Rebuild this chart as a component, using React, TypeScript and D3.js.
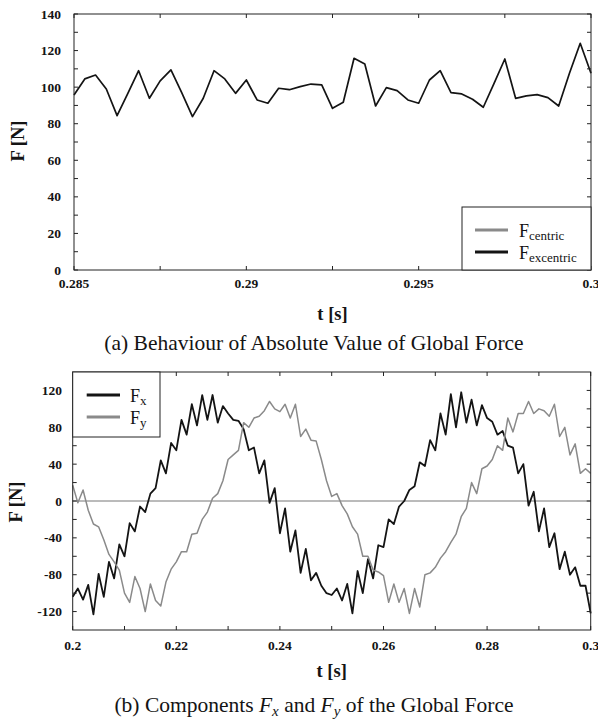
import React from 'react';
import * as d3 from 'd3';

// ---- Panel (a): absolute value of the global force ----
const absTime = [
  0.285, 0.2853125, 0.285625, 0.2859375, 0.28625, 0.2865625, 0.286875, 0.2871875, 0.2875,
  0.2878125, 0.288125, 0.2884375, 0.28875, 0.2890625, 0.289375, 0.2896875, 0.29, 0.2903125,
  0.290625, 0.2909375, 0.29125, 0.2915625, 0.291875, 0.2921875, 0.2925, 0.2928125, 0.293125,
  0.2934375, 0.29375, 0.2940625, 0.294375, 0.2946875, 0.295, 0.2953125, 0.295625, 0.2959375,
  0.29625, 0.2965625, 0.296875, 0.2971875, 0.2975, 0.2978125, 0.298125, 0.2984375, 0.29875,
  0.2990625, 0.299375, 0.2996875, 0.3,
];
const absExcentric = [
  95.7, 104.5, 106.6, 99, 84.4, 96.6, 109, 93.9, 103.4, 109.4, 97, 83.9, 93.9, 109, 104.5, 96.6,
  103.9, 93, 91.2, 99.4, 98.6, 100.3, 101.7, 101.2, 88.4, 91.7, 115.8, 112.7, 89.7, 99.7, 98.1,
  93, 91.2, 103.9, 109, 97, 96.3, 93.4, 89, 102.1, 115.4, 93.9, 95.2, 95.9, 94.3, 89.7, 107.6,
  124, 107.6,
];
const absTicksX = [0.285, 0.29, 0.295, 0.3];
const absTickLabelsX = ['0.285', '0.29', '0.295', '0.3'];
const absMinorX = [0.2875, 0.2925, 0.2975];
const absTicksY = [0, 20, 40, 60, 80, 100, 120, 140];
const absMinorY = [10, 30, 50, 70, 90, 110, 130];

// ---- Panel (b): components Fx and Fy ----
const compTime = [
  0.2, 0.201, 0.202, 0.203, 0.204, 0.205, 0.206, 0.207, 0.208, 0.209,
  0.21, 0.211, 0.212, 0.213, 0.214, 0.215, 0.216, 0.217, 0.218, 0.219,
  0.22, 0.221, 0.222, 0.223, 0.224, 0.225, 0.226, 0.227, 0.228, 0.229,
  0.23, 0.231, 0.232, 0.233, 0.234, 0.235, 0.236, 0.237, 0.238, 0.239,
  0.24, 0.241, 0.242, 0.243, 0.244, 0.245, 0.246, 0.247, 0.248, 0.249,
  0.25, 0.251, 0.252, 0.253, 0.254, 0.255, 0.256, 0.257, 0.258, 0.259,
  0.26, 0.261, 0.262, 0.263, 0.264, 0.265, 0.266, 0.267, 0.268, 0.269,
  0.27, 0.271, 0.272, 0.273, 0.274, 0.275, 0.276, 0.277, 0.278, 0.279,
  0.28, 0.281, 0.282, 0.283, 0.284, 0.285, 0.286, 0.287, 0.288, 0.289,
  0.29, 0.291, 0.292, 0.293, 0.294, 0.295, 0.296, 0.297, 0.298, 0.299,
  0.3,
];
const compFx = [
  -104, -95, -107, -91, -123, -79, -104, -66, -84, -47,
  -60, -24, -33, -6, -12, 8, 14, 44, 30, 63,
  55, 88, 72, 105, 82, 115, 88, 115, 85, 103,
  95, 88, 87, 78, 55, 58, 30, 44, -2, 14,
  -35, -8, -55, -32, -78, -52, -86, -78, -92, -100,
  -102, -95, -108, -90, -122, -76, -100, -63, -84, -48,
  -50, -20, -25, -6, 0, 12, 16, 42, 38, 66,
  55, 95, 72, 116, 80, 118, 85, 110, 82, 104,
  90, 86, 72, 76, 60, 58, 30, 40, -5, 10,
  -33, -8, -50, -35, -74, -55, -80, -72, -92, -92,
  -122,
];
const compFy = [
  17, -2, 12, -10, -25, -28, -42, -58, -66, -75,
  -100, -110, -82, -95, -120, -90, -108, -114, -88, -74,
  -66, -55, -55, -36, -35, -20, -12, 3, 8, 22,
  45, 50, 55, 85, 80, 90, 92, 98, 108, 100,
  97, 105, 90, 105, 70, 78, 66, 65, 45, 22,
  5, 8, -5, -14, -28, -36, -60, -60, -75, -77,
  -81, -110, -90, -110, -95, -122, -95, -115, -80, -78,
  -72, -62, -55, -45, -36, -17, -8, 20, 8, 35,
  38, 45, 60, 55, 90, 75, 95, 95, 108, 95,
  100, 98, 92, 105, 70, 80, 50, 62, 30, 35,
  30,
];
const compTicksX = [0.2, 0.22, 0.24, 0.26, 0.28, 0.3];
const compTickLabelsX = ['0.2', '0.22', '0.24', '0.26', '0.28', '0.3'];
const compMinorX = [0.21, 0.23, 0.25, 0.27, 0.29];
const compTicksY = [-120, -80, -40, 0, 40, 80, 120];
const compMinorY = [-100, -60, -20, 20, 60, 100];

const SERIF = '"Liberation Serif", "DejaVu Serif", "Times New Roman", serif';
const AXIS = '#222';
const DARK = '#141414';
const GREY = '#8a8a8a';
const TICK = 4;
const TICK_FONT = 13.5;
const LABEL_FONT = 18.5;
const CAPTION_FONT = 21.5;

type Scale = d3.ScaleLinear<number, number>;

function Frame({ x, y, majorX, labelsX, minorX, majorY, minorY, labelY, xLabelY, yLabelX }: {
  x: Scale; y: Scale; majorX: number[]; labelsX: string[]; minorX: number[];
  majorY: number[]; minorY: number[]; labelY: number; xLabelY: number; yLabelX: number;
}) {
  const [x0, x1] = x.range();
  const [y0, y1] = y.range();
  const allX = [...majorX, ...minorX];
  const allY = [...majorY, ...minorY];
  return (
    <g>
      <rect x={x0} y={y1} width={x1 - x0} height={y0 - y1} fill="none" stroke={AXIS} strokeWidth={1} />
      {allX.map((t, i) => (
        <g key={`xt${i}`}>
          <line x1={x(t)} x2={x(t)} y1={y0} y2={y0 - TICK} stroke={AXIS} />
          <line x1={x(t)} x2={x(t)} y1={y1} y2={y1 + TICK} stroke={AXIS} />
        </g>
      ))}
      {allY.map((v, i) => (
        <g key={`yt${i}`}>
          <line x1={x0} x2={x0 + TICK} y1={y(v)} y2={y(v)} stroke={AXIS} />
          <line x1={x1} x2={x1 - TICK} y1={y(v)} y2={y(v)} stroke={AXIS} />
        </g>
      ))}
      {majorX.map((t, i) => (
        <text key={`xl${i}`} x={x(t)} y={labelY} textAnchor="middle" fontFamily={SERIF}
          fontWeight="bold" fontSize={TICK_FONT} fill={DARK}>{labelsX[i]}</text>
      ))}
      {majorY.map((v, i) => (
        <text key={`yl${i}`} x={yLabelX} y={y(v) + 4.5} textAnchor="end" fontFamily={SERIF}
          fontWeight="bold" fontSize={TICK_FONT} fill={DARK}>{String(v)}</text>
      ))}
      <text x={(x0 + x1) / 2} y={xLabelY} textAnchor="middle" fontFamily={SERIF}
        fontWeight="bold" fontSize={LABEL_FONT} fill={DARK}>t [s]</text>
    </g>
  );
}

export default function App() {
  // Panel (a) scales
  const xa = d3.scaleLinear().domain([0.285, 0.3]).range([74, 591]);
  const ya = d3.scaleLinear().domain([0, 140]).range([270, 14]);
  const lineA = d3.line<number>().x((_, i) => xa(absTime[i])).y((d) => ya(d));

  // Panel (b) scales
  const xb = d3.scaleLinear().domain([0.2, 0.3]).range([72.7, 590.7]);
  const yb = d3.scaleLinear().domain([-140, 140]).range([630, 372]);
  const lineB = d3.line<number>().x((_, i) => xb(compTime[i])).y((d) => yb(d));

  return (
    <svg width={598} height={722} viewBox="0 0 598 722"
      style={{ position: 'absolute', left: 0, top: 0, background: '#fff' }}>
      <rect x={0} y={0} width={598} height={722} fill="#fff" />

      {/* (a) absolute value of the global force */}
      <path d={lineA(absExcentric) ?? ''} fill="none" stroke={DARK} strokeWidth={1.7} strokeLinejoin="round" />
      <Frame x={xa} y={ya} majorX={absTicksX} labelsX={absTickLabelsX} minorX={absMinorX}
        majorY={absTicksY} minorY={absMinorY} labelY={288} xLabelY={320} yLabelX={61} />
      <text transform="translate(24,141) rotate(-90)" textAnchor="middle" fontFamily={SERIF}
        fontWeight="bold" fontSize={LABEL_FONT} fill={DARK}>F [N]</text>
      <g>
        <rect x={462} y={207} width={129} height={63} fill="#fff" stroke={AXIS} />
        <line x1={475} x2={508} y1={230} y2={230} stroke={GREY} strokeWidth={3} />
        <line x1={475} x2={508} y1={252} y2={252} stroke={DARK} strokeWidth={3} />
        <text x={519} y={237} fontFamily={SERIF} fontSize={18} fill={DARK}>
          F<tspan fontSize={13} dy={3}>centric</tspan>
        </text>
        <text x={519} y={259} fontFamily={SERIF} fontSize={18} fill={DARK}>
          F<tspan fontSize={13} dy={3}>excentric</tspan>
        </text>
      </g>
      <text x={314} y={350} textAnchor="middle" fontFamily={SERIF} fontSize={CAPTION_FONT} fill={DARK}>
        (a) Behaviour of Absolute Value of Global Force
      </text>

      {/* (b) components of the global force */}
      <line x1={xb(0.2)} x2={xb(0.3)} y1={yb(0)} y2={yb(0)} stroke="#777" strokeWidth={1} />
      <path d={lineB(compFx) ?? ''} fill="none" stroke={DARK} strokeWidth={1.8} strokeLinejoin="round" />
      <path d={lineB(compFy) ?? ''} fill="none" stroke={GREY} strokeWidth={1.5} strokeLinejoin="round" />
      <Frame x={xb} y={yb} majorX={compTicksX} labelsX={compTickLabelsX} minorX={compMinorX}
        majorY={compTicksY} minorY={compMinorY} labelY={650} xLabelY={677} yLabelX={62} />
      <text transform="translate(22,502) rotate(-90)" textAnchor="middle" fontFamily={SERIF}
        fontWeight="bold" fontSize={LABEL_FONT} fill={DARK}>F [N]</text>
      <g>
        <rect x={72.7} y={372} width={87.3} height={65} fill="#fff" stroke={AXIS} />
        <line x1={86.7} x2={120} y1={395} y2={395} stroke={DARK} strokeWidth={3} />
        <line x1={86.7} x2={120} y1={417} y2={417} stroke={GREY} strokeWidth={3} />
        <text x={130} y={402} fontFamily={SERIF} fontSize={18} fill={DARK}>
          F<tspan fontSize={13} dy={3}>x</tspan>
        </text>
        <text x={130} y={424} fontFamily={SERIF} fontSize={18} fill={DARK}>
          F<tspan fontSize={13} dy={3}>y</tspan>
        </text>
      </g>
      <text x={314} y={712} textAnchor="middle" fontFamily={SERIF} fontSize={CAPTION_FONT} fill={DARK}>
        (b) Components <tspan fontStyle="italic">F</tspan>
        <tspan fontStyle="italic" fontSize={15} dy={4}>x</tspan>
        <tspan dy={-4}> and </tspan>
        <tspan fontStyle="italic">F</tspan>
        <tspan fontStyle="italic" fontSize={15} dy={4}>y</tspan>
        <tspan dy={-4}> of the Global Force</tspan>
      </text>
    </svg>
  );
}
